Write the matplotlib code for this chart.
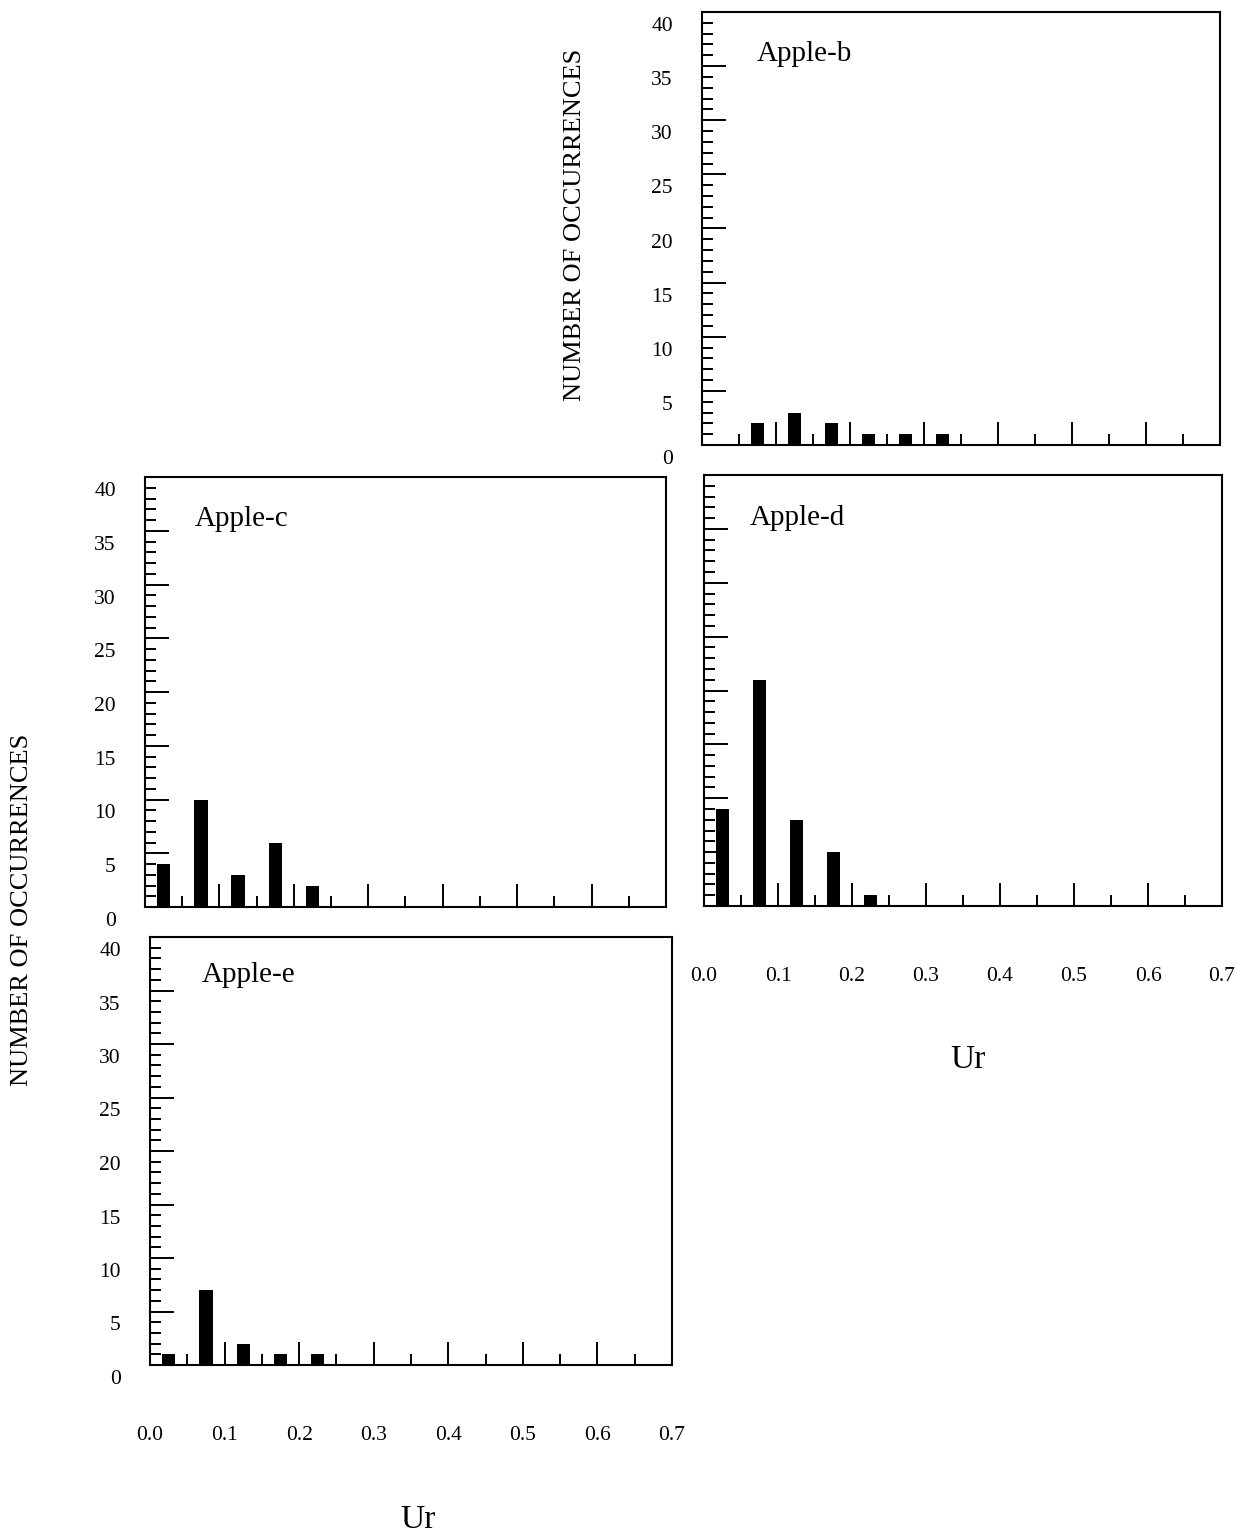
import matplotlib
matplotlib.use("Agg")
import matplotlib.pyplot as plt
from matplotlib.ticker import MultipleLocator
from matplotlib.transforms import ScaledTranslation

plt.rcParams['font.family'] = ['Liberation Serif', 'DejaVu Serif']

# ---- data ----
bin_centers = [0.025, 0.075, 0.125, 0.175, 0.225, 0.275, 0.325]
apple_b = [0, 2, 3, 2, 1, 1, 1]
apple_c = [4, 10, 3, 6, 2, 0, 0]
apple_d = [9, 21, 8, 5, 1, 0, 0]
apple_e = [1, 7, 2, 1, 1, 0, 0]
panel_names = ["Apple-b", "Apple-c", "Apple-d", "Apple-e"]
x_tick_labels = ["0.0", "0.1", "0.2", "0.3", "0.4", "0.5", "0.6", "0.7"]
y_tick_labels = ["0", "5", "10", "15", "20", "25", "30", "35", "40"]

W, H = 1242, 1536
DPI = 100
fig = plt.figure(figsize=(W / DPI, H / DPI), dpi=DPI)


def rect(l, t, r, b):
    return [l / W, 1 - b / H, (r - l) / W, (b - t) / H]


# pixel boxes (left, top, right, bottom)
boxes = {
    "Apple-b": (702, 12, 1220, 445),
    "Apple-c": (145, 477, 666, 907),
    "Apple-d": (704, 475, 1222, 906),
    "Apple-e": (150, 937, 672, 1365),
}
series = {"Apple-b": apple_b, "Apple-c": apple_c, "Apple-d": apple_d, "Apple-e": apple_e}
show_ylabels = {"Apple-b": True, "Apple-c": True, "Apple-d": False, "Apple-e": True}
show_xlabels = {"Apple-b": False, "Apple-c": False, "Apple-d": True, "Apple-e": True}
title_pos = {"Apple-b": (0.106, 0.903), "Apple-c": (0.096, 0.902),
             "Apple-d": (0.089, 0.900), "Apple-e": (0.100, 0.911)}

for name in panel_names:
    ax = fig.add_axes(rect(*boxes[name]))
    ax.bar(bin_centers, series[name], width=0.018, color='black', linewidth=0)
    ax.set_xlim(0, 0.7)
    ax.set_ylim(0, 40)
    for s in ax.spines.values():
        s.set_linewidth(1.5)
        s.set_color('black')
    ax.xaxis.set_major_locator(MultipleLocator(0.1))
    ax.xaxis.set_minor_locator(MultipleLocator(0.05))
    ax.yaxis.set_major_locator(MultipleLocator(5))
    ax.yaxis.set_minor_locator(MultipleLocator(1))
    ax.tick_params(axis='x', which='major', direction='in', length=16.5, width=1.4,
                   top=False, bottom=True, pad=44, labelsize=15.5)
    ax.tick_params(axis='x', which='minor', direction='in', length=8, width=1.4,
                   top=False, bottom=True)
    ax.tick_params(axis='y', which='major', direction='in', length=17, width=1.4,
                   left=True, right=False, pad=21, labelsize=15.5)
    ax.tick_params(axis='y', which='minor', direction='in', length=8, width=1.4,
                   left=True, right=False)
    ax.set_xticks([i / 10 for i in range(len(x_tick_labels))])
    if show_xlabels[name]:
        ax.set_xticklabels(x_tick_labels)
    else:
        ax.set_xticklabels([])
    ax.set_yticks([5 * i for i in range(len(y_tick_labels))])
    if show_ylabels[name]:
        ax.set_yticklabels(y_tick_labels)
        off = ScaledTranslation(0, -12 / DPI, fig.dpi_scale_trans)
        for lbl in ax.get_yticklabels():
            lbl.set_transform(lbl.get_transform() + off)
    else:
        ax.set_yticklabels([])
    tx, ty = title_pos[name]
    ax.text(tx, ty, name, transform=ax.transAxes, fontsize=21, ha='left', va='center')

fig.text(575 / W, 1 - 225 / H, "NUMBER OF OCCURRENCES", rotation=90,
         ha='center', va='center', fontsize=19)
fig.text(22 / W, 1 - 910 / H, "NUMBER OF OCCURRENCES", rotation=90,
         ha='center', va='center', fontsize=19)
fig.text(968 / W, 1 - 1060 / H, "Ur", ha='center', va='center', fontsize=24)
fig.text(418 / W, 1 - 1520 / H, "Ur", ha='center', va='center', fontsize=24)

fig.savefig("out.png", dpi=DPI, facecolor='white')
